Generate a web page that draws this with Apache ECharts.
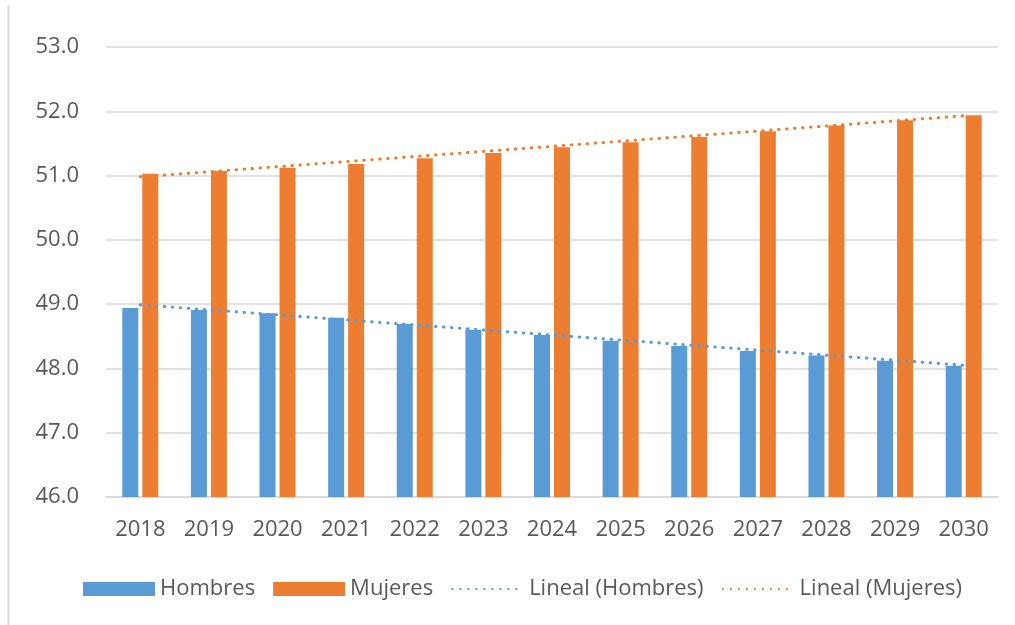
<!DOCTYPE html>
<html>
<head>
<meta charset="utf-8">
<script src="https://cdn.jsdelivr.net/npm/echarts@6/dist/echarts.min.js"></script>
<style>
  html, body { margin: 0; padding: 0; background: #fff; }
  #chart { width: 1015px; height: 625px; }
</style>
</head>
<body>
<div id="chart"></div>
<script>
// values
const years = ['2018', '2019', '2020', '2021', '2022', '2023', '2024', '2025', '2026', '2027', '2028', '2029', '2030'];
const hombres = [48.94, 48.91, 48.86, 48.79, 48.69, 48.60, 48.52, 48.43, 48.35, 48.27, 48.20, 48.12, 48.04];
const mujeres = [51.03, 51.07, 51.12, 51.18, 51.27, 51.35, 51.44, 51.52, 51.60, 51.69, 51.78, 51.86, 51.94];
// trend line ends (first and last year), as drawn
const trendHombres = [48.99, 48.05];
const trendMujeres = [50.98, 51.93];

const blue = '#5B9BD5', orange = '#ED7D31';
const textColor = '#595959', gridColor = '#D9D9D9';
const font = '"Open Sans", sans-serif';

function trendData(ends) {
  return years.map((y, i) => i === 0 ? ends[0] : (i === years.length - 1 ? ends[1] : null));
}

const chart = echarts.init(document.getElementById('chart'));
chart.setOption({
  animation: false,
  grid: { left: 106, right: 17, top: 47, bottom: 128 },
  graphic: [{
    type: 'line',
    shape: { x1: 8.5, y1: 5, x2: 8.5, y2: 625 },
    style: { stroke: gridColor, lineWidth: 2 }
  }],
  legend: {
    bottom: 20,
    left: 78,
    itemGap: 18,
    itemWidth: 72,
    itemHeight: 14,
    textStyle: { color: textColor, fontSize: 22, fontFamily: font },
    data: [
      { name: 'Hombres', icon: 'rect' },
      { name: 'Mujeres', icon: 'rect' },
      { name: 'Lineal (Hombres)', itemStyle: { opacity: 0 } },
      { name: 'Lineal (Mujeres)', itemStyle: { opacity: 0 } }
    ]
  },
  xAxis: {
    type: 'category',
    data: years,
    axisTick: { show: false },
    axisLine: { lineStyle: { color: gridColor, width: 1.5 } },
    axisLabel: { color: textColor, fontSize: 22, fontFamily: font, margin: 22 }
  },
  yAxis: {
    type: 'value',
    min: 46,
    max: 53,
    interval: 1,
    axisLabel: {
      color: textColor, fontSize: 22, fontFamily: font, margin: 27,
      formatter: v => v.toFixed(1)
    },
    splitLine: { lineStyle: { color: gridColor, width: 1.5 } }
  },
  series: [
    {
      name: 'Hombres', type: 'bar', data: hombres,
      barWidth: 16, barGap: '25%',
      itemStyle: { color: blue }
    },
    {
      name: 'Mujeres', type: 'bar', data: mujeres,
      barWidth: 16,
      itemStyle: { color: orange }
    },
    {
      name: 'Lineal (Hombres)', type: 'line', data: trendData(trendHombres),
      connectNulls: true, symbol: 'none', z: 5,
      itemStyle: { color: blue },
      lineStyle: { color: blue, width: 3, type: [0.5, 7.5], cap: 'round' }
    },
    {
      name: 'Lineal (Mujeres)', type: 'line', data: trendData(trendMujeres),
      connectNulls: true, symbol: 'none', z: 5,
      itemStyle: { color: orange },
      lineStyle: { color: orange, width: 3, type: [0.5, 7.5], cap: 'round' }
    }
  ]
});
</script>
</body>
</html>
